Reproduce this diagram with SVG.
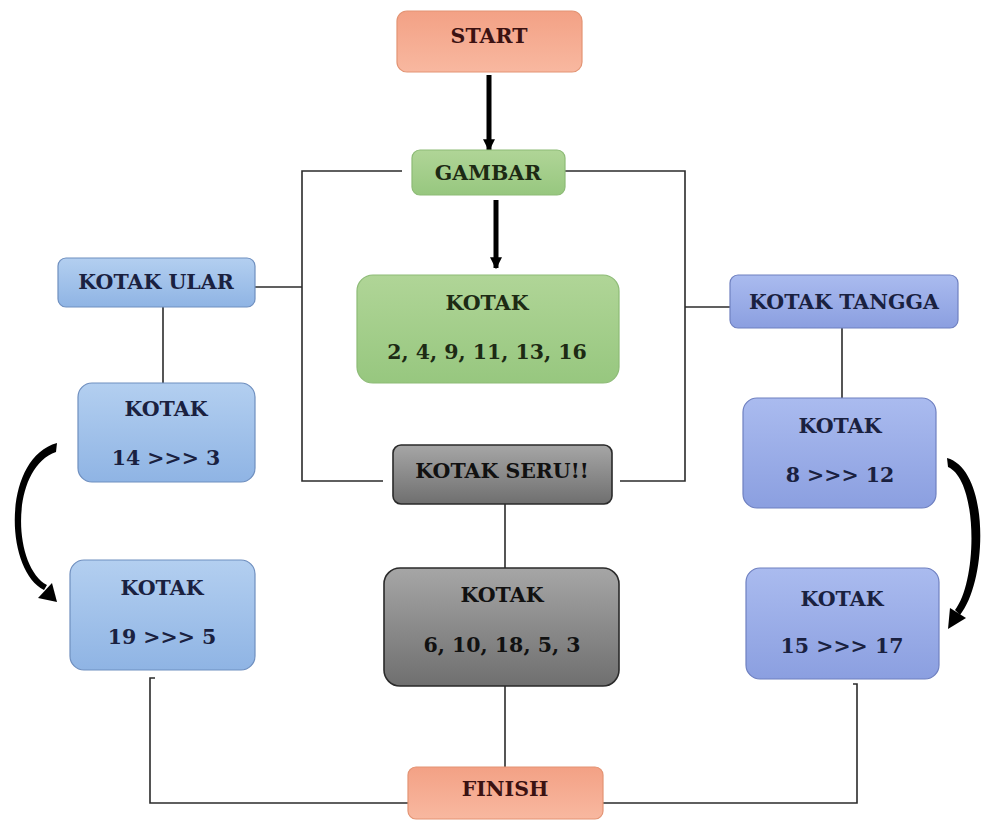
<svg xmlns="http://www.w3.org/2000/svg" width="982" height="821" viewBox="0 0 982 821">
<defs>
<linearGradient id="gOrange" x1="0" y1="0" x2="0" y2="1"><stop offset="0" stop-color="#f3a185"/><stop offset="1" stop-color="#f8b8a0"/></linearGradient>
<linearGradient id="gGreen" x1="0" y1="0" x2="0" y2="1"><stop offset="0" stop-color="#b0d597"/><stop offset="1" stop-color="#97c77f"/></linearGradient>
<linearGradient id="gBlue" x1="0" y1="0" x2="0" y2="1"><stop offset="0" stop-color="#b3cff0"/><stop offset="1" stop-color="#8fb4e4"/></linearGradient>
<linearGradient id="gPurple" x1="0" y1="0" x2="0" y2="1"><stop offset="0" stop-color="#aabbef"/><stop offset="1" stop-color="#8b9fe0"/></linearGradient>
<linearGradient id="gGray" x1="0" y1="0" x2="0" y2="1"><stop offset="0" stop-color="#a6a6a6"/><stop offset="1" stop-color="#6f6f6f"/></linearGradient>
<marker id="ah" viewBox="0 0 10 10" refX="9" refY="5" markerWidth="2.4" markerHeight="2.6" orient="auto" markerUnits="strokeWidth"><path d="M0,0 L10,5 L0,10 z" fill="#000"/></marker>
</defs>
<style>
text{font-family:"DejaVu Serif","Liberation Serif",serif;font-weight:bold;font-size:20.5px;text-anchor:middle}
.line{fill:none;stroke:#2b2b2b;stroke-width:1.6}
.thick{fill:none;stroke:#000;stroke-width:5}
.orange{fill:url(#gOrange);stroke:#e39474;stroke-width:1.2}
.green{fill:url(#gGreen);stroke:#8dbb76;stroke-width:1.2}
.blue{fill:url(#gBlue);stroke:#6f8fbf;stroke-width:1.2}
.purple{fill:url(#gPurple);stroke:#6f80c0;stroke-width:1.2}
.gray{fill:url(#gGray);stroke:#2a2a2a;stroke-width:1.6}
.tOr{fill:#3b1212}
.tGr{fill:#1d2a14}
.tBl{fill:#1a2140}
.tGy{fill:#111}
</style>
<rect width="982" height="821" fill="#fff"/>
<g id="connectors">
<line class="thick" x1="489" y1="75" x2="489" y2="150" marker-end="url(#ah)"/>
<line class="thick" x1="496" y1="200" x2="496" y2="268" marker-end="url(#ah)"/>
<polyline class="line" points="402,171 302,171 302,481 383,481"/>
<line class="line" x1="255" y1="287" x2="302" y2="287"/>
<polyline class="line" points="565,171 685,171 685,481 620,481"/>
<line class="line" x1="730" y1="307" x2="685" y2="307"/>
<line class="line" x1="163" y1="307" x2="163" y2="383"/>
<line class="line" x1="842" y1="328" x2="842" y2="398"/>
<line class="line" x1="505" y1="504" x2="505" y2="568"/>
<line class="line" x1="505" y1="686" x2="505" y2="767"/>
<polyline class="line" points="408,803 150,803 150,678 155,678"/>
<polyline class="line" points="603,803 857,803 857,684 853,684"/>
<path d="M57,443 C2,458 4,570 44,590 L47,585 C12,566 10,468 56,452 Z" fill="#000"/>
<path d="M57,602 L38,598 L52,583 Z" fill="#000"/>
<path d="M947,458 C990,470 988,580 960,615 L955,610 C978,580 978,480 948,467 Z" fill="#000"/>
<path d="M948,629 L950,608 L966,618 Z" fill="#000"/>
</g>
<g id="start"><rect class="orange" x="397" y="11" width="185" height="61" rx="10"/><text class="tOr" x="489" y="43">START</text></g>
<g id="gambar"><rect class="green" x="412" y="150" width="153" height="45" rx="8"/><text class="tGr" x="488" y="180">GAMBAR</text></g>
<g id="kotak-gambar"><rect class="green" x="357" y="275" width="262" height="108" rx="16"/><text class="tGr" x="487" y="310">KOTAK</text><text class="tGr" x="487" y="359">2, 4, 9, 11, 13, 16</text></g>
<g id="kotak-ular"><rect class="blue" x="58" y="258" width="197" height="49" rx="8"/><text class="tBl" x="156" y="289">KOTAK ULAR</text></g>
<g id="kotak-14-3"><rect class="blue" x="78" y="383" width="177" height="99" rx="14"/><text class="tBl" x="166" y="416">KOTAK</text><text class="tBl" x="166" y="465">14 &gt;&gt;&gt; 3</text></g>
<g id="kotak-19-5"><rect class="blue" x="70" y="560" width="185" height="110" rx="14"/><text class="tBl" x="162" y="595">KOTAK</text><text class="tBl" x="162" y="644">19 &gt;&gt;&gt; 5</text></g>
<g id="kotak-tangga"><rect class="purple" x="730" y="275" width="228" height="53" rx="8"/><text class="tBl" x="844" y="309">KOTAK TANGGA</text></g>
<g id="kotak-8-12"><rect class="purple" x="743" y="398" width="193" height="110" rx="14"/><text class="tBl" x="840" y="433">KOTAK</text><text class="tBl" x="840" y="482">8 &gt;&gt;&gt; 12</text></g>
<g id="kotak-15-17"><rect class="purple" x="746" y="568" width="193" height="111" rx="14"/><text class="tBl" x="842" y="606">KOTAK</text><text class="tBl" x="842" y="653">15 &gt;&gt;&gt; 17</text></g>
<g id="kotak-seru"><rect class="gray" x="393" y="445" width="219" height="59" rx="8"/><text class="tGy" x="502" y="478">KOTAK SERU!!</text></g>
<g id="kotak-seru-list"><rect class="gray" x="384" y="568" width="235" height="118" rx="16"/><text class="tGy" x="502" y="602">KOTAK</text><text class="tGy" x="502" y="652">6, 10, 18, 5, 3</text></g>
<g id="finish"><rect class="orange" x="408" y="767" width="195" height="52" rx="8"/><text class="tOr" x="505" y="796">FINISH</text></g>
</svg>
